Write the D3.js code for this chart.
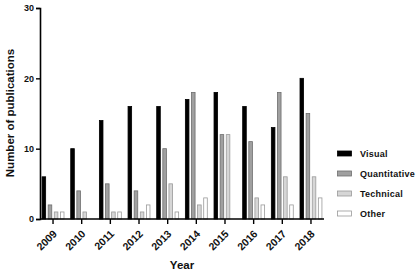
<!DOCTYPE html>
<html><head><meta charset="utf-8">
<script src="https://cdn.jsdelivr.net/npm/d3@7"></script>
<style>body{margin:0;background:#fff}svg{display:block}</style>
</head><body>
<script>
const years = ["2009","2010","2011","2012","2013","2014","2015","2016","2017","2018"];
const seriesNames = ["Visual","Quantitative","Technical","Other"];
const visual       = [6,10,14,16,16,17,18,16,13,20];
const quantitative = [2,4,5,4,10,18,12,11,18,15];
const technical    = [1,1,1,1,5,2,12,3,6,6];
const other        = [1,0,1,2,1,3,0,2,2,3];
const yTicks = [0,10,20,30];
const values = [visual, quantitative, technical, other];
const fills   = ["#000000","#a0a0a0","#d6d6d6","#ffffff"];
const strokes = ["#000000","#6e6e6e","#9a9a9a","#9a9a9a"];

const W=416,H=275;
const svg=d3.select("body").append("svg").attr("width",W).attr("height",H);
const font="Arial, 'Liberation Sans', sans-serif";

const x0=d3.scaleBand().domain(years).range([38.7,325.3]).paddingInner(0.2).paddingOuter(0.1);
const x1=d3.scaleBand().domain(seriesNames).range([0,x0.bandwidth()]).paddingInner(0.25);
const y=d3.scaleLinear().domain([0,30]).range([219,8]);

// bars
seriesNames.forEach((s,i)=>{
  svg.append("g").selectAll("rect").data(years).join("rect")
    .attr("x",d=>x0(d)+x1(s)+0.5)
    .attr("y",(d,j)=>y(values[i][j]))
    .attr("width",x1.bandwidth()-1)
    .attr("height",(d,j)=>y(0)-y(values[i][j]))
    .attr("fill",fills[i]).attr("stroke",strokes[i]).attr("stroke-width",0.8)
    .attr("display",(d,j)=>values[i][j]===0?"none":null);
});

// y axis
const ya=svg.append("g").attr("transform","translate(40,0)")
  .call(d3.axisLeft(y).tickValues(yTicks).tickSize(4).tickPadding(2));
ya.select(".domain").attr("stroke","#000").attr("stroke-width",1.6);
ya.selectAll(".tick line").attr("stroke","#000").attr("stroke-width",1.4);
ya.selectAll(".tick text").attr("font-family",font).attr("font-weight","bold").attr("font-size",9).attr("fill","#111");

// x axis
const xa=svg.append("g").attr("transform","translate(0,219)")
  .call(d3.axisBottom(x0).tickSize(5).tickSizeOuter(0));
xa.select(".domain").attr("d","M40,0H324").attr("stroke","#000").attr("stroke-width",1.6);
xa.selectAll(".tick line").attr("stroke","#000").attr("stroke-width",1.4);
xa.selectAll(".tick text").attr("font-family",font).attr("font-weight","bold").attr("font-size",10.5).attr("fill","#111")
  .attr("text-anchor","end").attr("dy",0).attr("y",0)
  .attr("transform","translate(4.5,15.5) rotate(-45)");

// axis titles
svg.append("text").attr("x",182).attr("y",269).attr("text-anchor","middle")
  .attr("font-family",font).attr("font-weight","bold").attr("font-size",11.5).attr("fill","#111").text("Year");
svg.append("text").attr("transform","translate(14,113) rotate(-90)").attr("text-anchor","middle")
  .attr("font-family",font).attr("font-weight","bold").attr("font-size",11.5).attr("fill","#111").text("Number of publications");

// legend
const lg=svg.append("g").attr("transform","translate(337,153.5)");
seriesNames.forEach((s,i)=>{
  const g=lg.append("g").attr("transform",`translate(0,${i*20})`);
  g.append("rect").attr("x",0.5).attr("y",-2.5).attr("width",14).attr("height",5)
    .attr("fill",fills[i]).attr("stroke",strokes[i]).attr("stroke-width",0.8);
  g.append("text").attr("x",23).attr("y",0).attr("dy","0.35em")
    .attr("font-family",font).attr("font-weight","bold").attr("font-size",9).attr("fill","#111")
    .attr("letter-spacing",0.25).text(s);
});
</script>
</body></html>
